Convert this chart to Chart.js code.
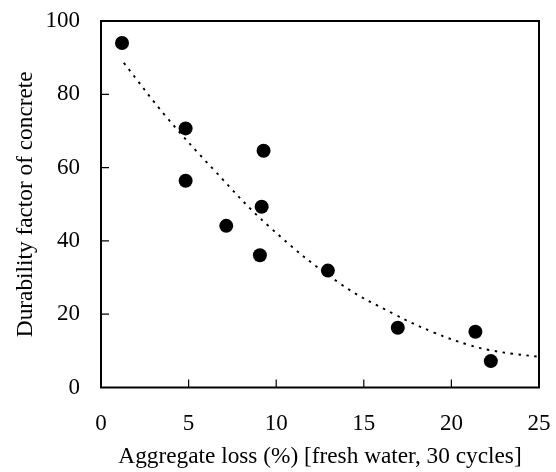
<!DOCTYPE html>
<html>
<head>
<meta charset="utf-8">
<script src="https://cdn.jsdelivr.net/npm/chart.js@4.4.1/dist/chart.umd.min.js"></script>
<style>
  html, body { margin: 0; padding: 0; background: #fff; }
  #wrap { width: 556px; height: 472px; }
</style>
</head>
<body>
<div id="wrap"><canvas id="chart" width="556" height="472"></canvas></div>
<script>
// Measured points: aggregate loss (%) vs durability factor
const lossValues = [1.2, 4.83, 9.28, 4.83, 9.17, 7.15, 9.07, 12.95, 16.94, 21.37, 22.25];
const durabilityValues = [94.0, 70.7, 64.6, 56.4, 49.3, 44.1, 36.1, 31.9, 16.3, 15.2, 7.2];

// Trend line
const trendX = [1.3, 3.7, 6.4, 9.6, 13.6, 16.7, 19.0, 21.0, 22.2, 23.5, 25.0];
const trendY = [88.6, 74.0, 59.6, 43.9, 28.5, 20.1, 15.0, 11.6, 10.2, 9.2, 8.4];

const xTicks = [0, 5, 10, 15, 20, 25];
const yTicks = [0, 20, 40, 60, 80, 100];

const serif = '"Liberation Serif", "DejaVu Serif", serif';

// frame + inward tick marks
const framePlugin = {
    id: 'frame',
    afterDraw(chart) {
        const ctx = chart.ctx;
        const a = chart.chartArea;
        ctx.save();
        ctx.strokeStyle = '#000';
        ctx.lineWidth = 2;
        ctx.strokeRect(a.left, a.top, a.right - a.left, a.bottom - a.top);
        ctx.lineWidth = 1.2;
        const xs = chart.scales.x, ys = chart.scales.y;
        ctx.beginPath();
        xs.ticks.forEach((t, i) => {
            const px = xs.getPixelForTick(i);
            ctx.moveTo(px, a.bottom);
            ctx.lineTo(px, a.bottom - 8);
        });
        ys.ticks.forEach((t, i) => {
            const py = ys.getPixelForTick(i);
            ctx.moveTo(a.left, py);
            ctx.lineTo(a.left + 8, py);
        });
        ctx.stroke();
        ctx.restore();
    }
};

new Chart(document.getElementById('chart'), {
    type: 'scatter',
    data: {
        datasets: [
            {
                label: 'Trend',
                type: 'line',
                data: trendX.map((x, i) => ({ x: x, y: trendY[i] })),
                borderColor: '#000',
                borderWidth: 1.9,
                borderDash: [2.5, 5.5],
                pointRadius: 0,
                tension: 0.4,
                fill: false
            },
            {
                label: 'Durability',
                data: lossValues.map((x, i) => ({ x: x, y: durabilityValues[i] })),
                backgroundColor: '#000',
                borderWidth: 0,
                pointRadius: 7
            }
        ]
    },
    options: {
        responsive: false,
        animation: false,
        layout: { padding: { left: 0, right: 17, top: 21, bottom: 0 } },
        plugins: {
            legend: { display: false },
            tooltip: { enabled: false }
        },
        scales: {
            x: {
                type: 'linear',
                min: 0,
                max: 25,
                afterBuildTicks: s => { s.ticks = xTicks.map(v => ({ value: v })); },
                afterFit: s => { s.height = 84.5; s.paddingLeft = 0; s.paddingRight = 0; },
                grid: { display: false, drawTicks: false },
                border: { display: false },
                ticks: { color: '#000', padding: 23, font: { family: serif, size: 23 } },
                title: {
                    display: true,
                    text: 'Aggregate loss (%) [fresh water, 30 cycles]',
                    color: '#000',
                    font: { family: serif, size: 23.3 },
                    padding: { top: 0, bottom: 1 }
                }
            },
            y: {
                type: 'linear',
                min: 0,
                max: 100,
                afterBuildTicks: s => { s.ticks = yTicks.map(v => ({ value: v })); },
                afterFit: s => { s.width = 101; s.paddingTop = 0; s.paddingBottom = 0; },
                grid: { display: false, drawTicks: false },
                border: { display: false },
                ticks: { color: '#000', padding: 21, font: { family: serif, size: 23 } },
                title: {
                    display: true,
                    text: 'Durability factor of concrete',
                    color: '#000',
                    font: { family: serif, size: 23.3 },
                    padding: { top: 12, bottom: 0 }
                }
            }
        }
    },
    plugins: [framePlugin]
});
</script>
</body>
</html>
